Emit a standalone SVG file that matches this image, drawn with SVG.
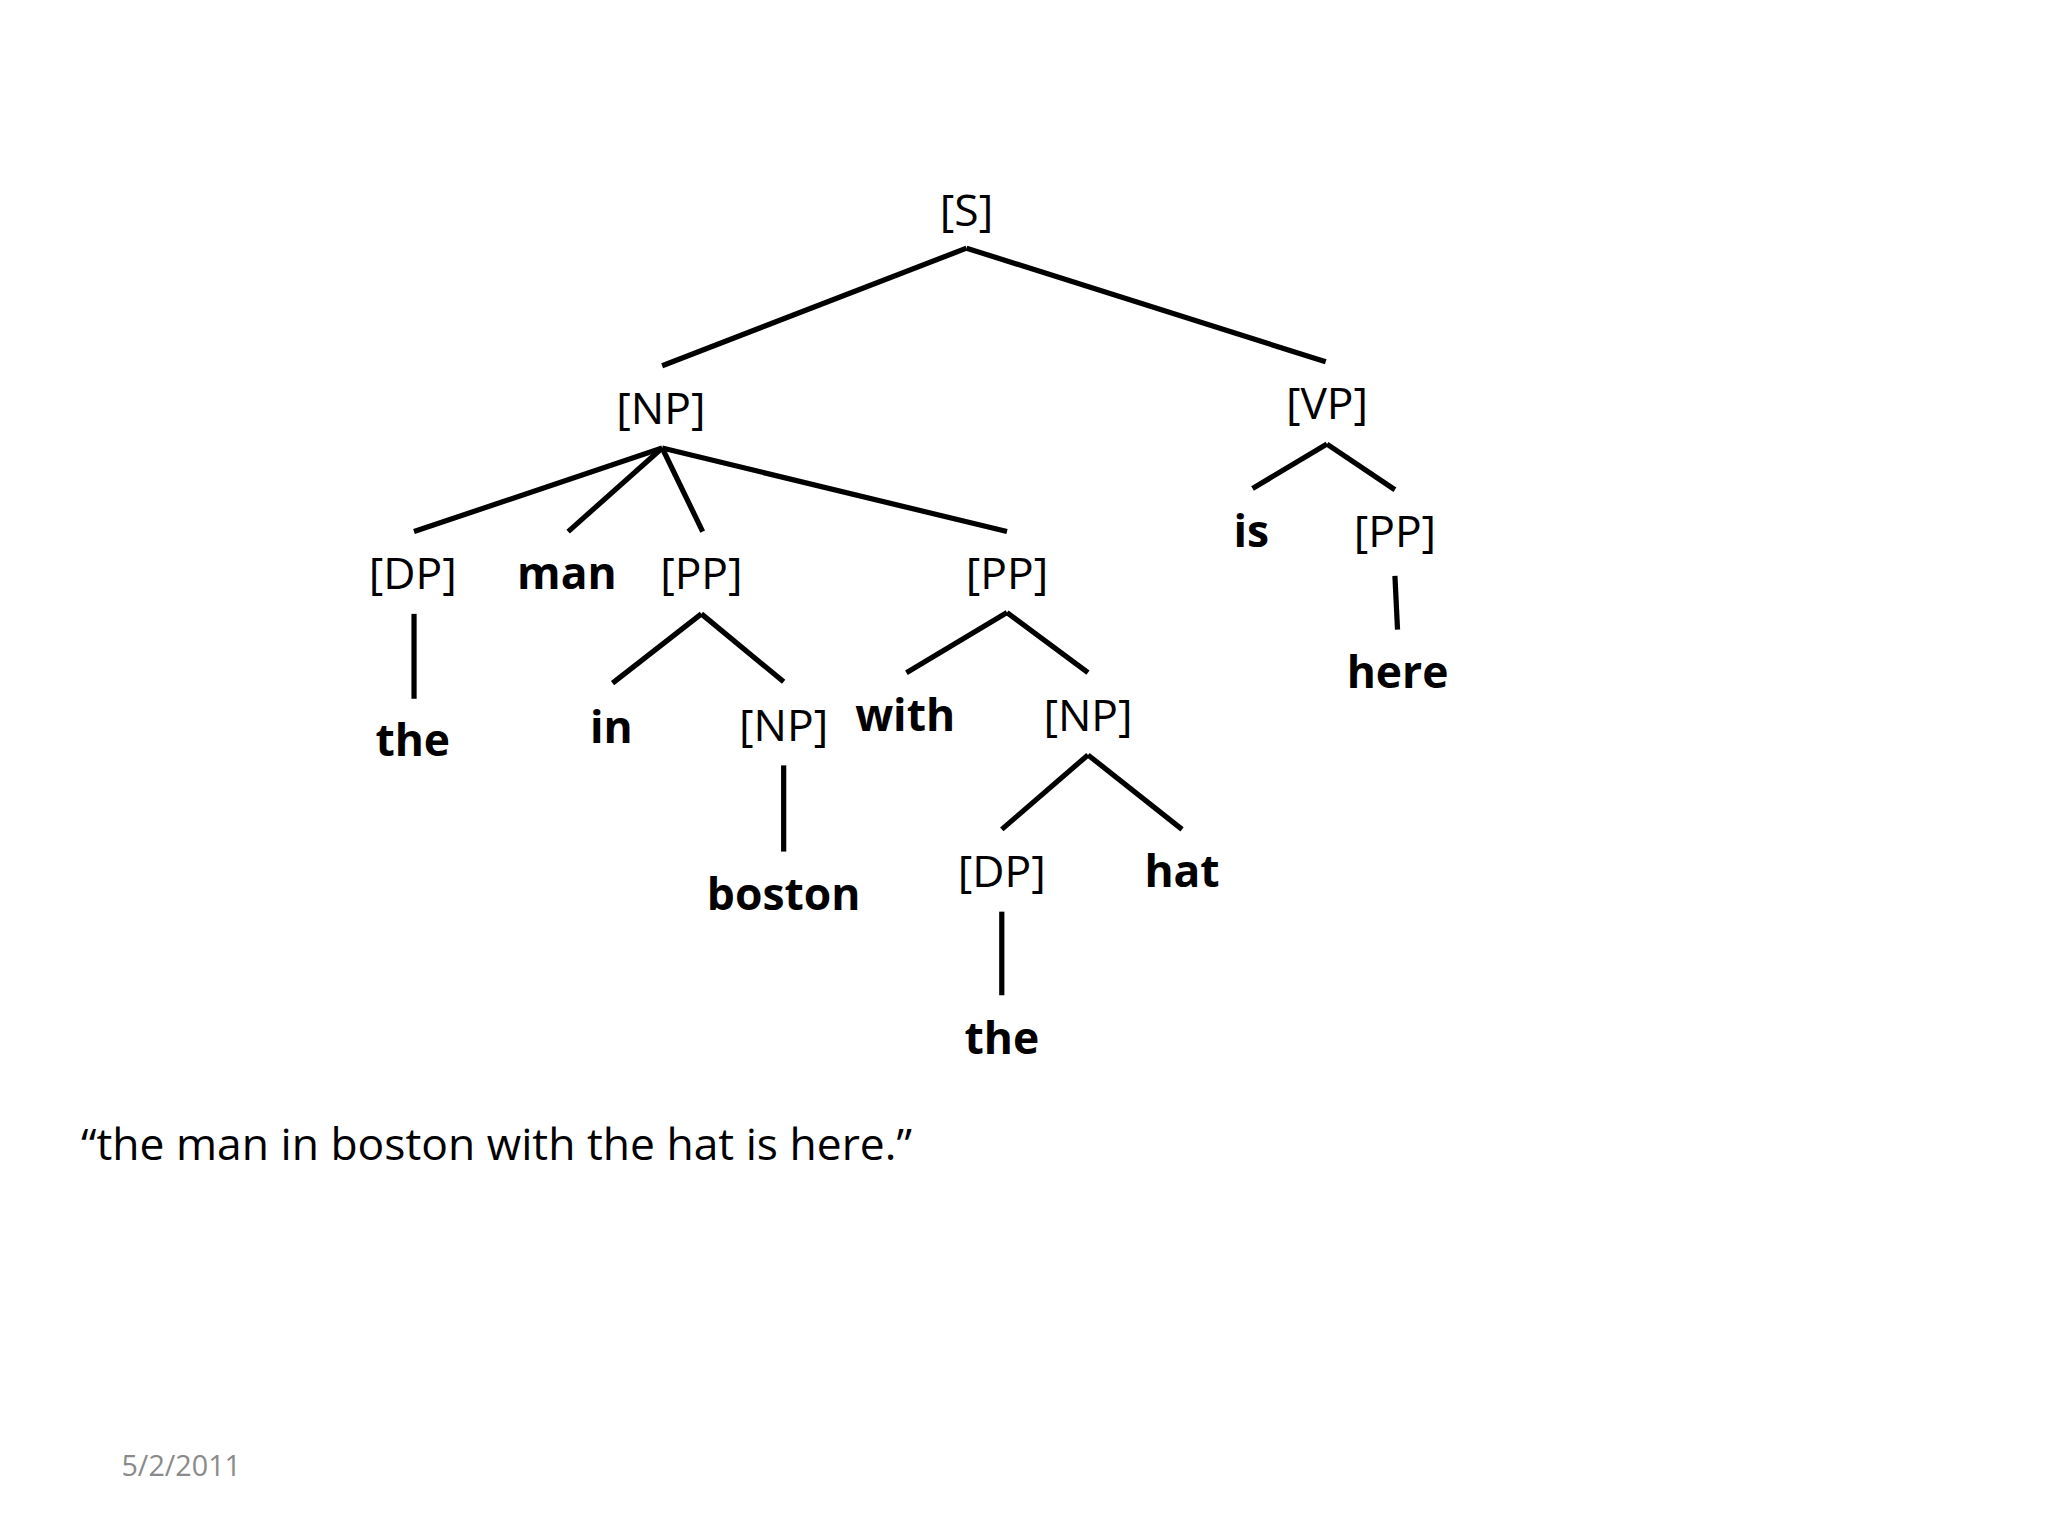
<svg xmlns="http://www.w3.org/2000/svg" width="2048" height="1536" viewBox="0 0 2048 1536">
<style>
text{font-family:"Open Sans","Noto Sans",sans-serif;font-size:34px;fill:#000;text-anchor:middle}
.b{font-weight:bold}
line{stroke:#000;stroke-width:4}
</style>
<rect width="2048" height="1536" fill="#fff"/>
<g transform="scale(1.3061)">
<g id="connectors">
<line x1="740" y1="190" x2="507" y2="280"/><line x1="740" y1="190" x2="1015" y2="277"/>
<line x1="507" y1="343" x2="317" y2="407"/><line x1="507" y1="343" x2="435" y2="407"/><line x1="507" y1="343" x2="538" y2="407"/><line x1="507" y1="343" x2="771" y2="407"/>
<line x1="1016" y1="340" x2="959" y2="374"/><line x1="1016" y1="340" x2="1068" y2="375"/>
<line x1="1068" y1="441" x2="1070" y2="482"/>
<line x1="317" y1="470" x2="317" y2="535"/>
<line x1="537" y1="470" x2="469" y2="523"/><line x1="537" y1="470" x2="600" y2="522"/>
<line x1="600" y1="586" x2="600" y2="652"/>
<line x1="771" y1="469" x2="694" y2="515"/><line x1="771" y1="469" x2="833" y2="515"/>
<line x1="833" y1="578" x2="767" y2="635"/><line x1="833" y1="578" x2="905" y2="635"/>
<line x1="767" y1="698" x2="767" y2="762"/>
</g>
<g id="S"><text x="740" y="173">[S]</text></g>
<g id="NP1"><text x="506" y="325">[NP]</text></g>
<g id="VP"><text x="1016" y="321">[VP]</text></g>
<g id="DP1"><text x="316" y="451">[DP]</text></g>
<g id="man"><text class="b" x="434" y="451">man</text></g>
<g id="PP1"><text x="537" y="451">[PP]</text></g>
<g id="PP2"><text x="771" y="451">[PP]</text></g>
<g id="is"><text class="b" x="958" y="419">is</text></g>
<g id="PP3"><text x="1068" y="419">[PP]</text></g>
<g id="here"><text class="b" x="1070" y="527">here</text></g>
<g id="the1"><text class="b" x="316" y="579">the</text></g>
<g id="in"><text class="b" x="468" y="569">in</text></g>
<g id="NP2"><text x="600" y="567">[NP]</text></g>
<g id="boston"><text class="b" x="600" y="697">boston</text></g>
<g id="with"><text class="b" x="693" y="560">with</text></g>
<g id="NP3"><text x="833" y="560">[NP]</text></g>
<g id="DP2"><text x="767" y="679">[DP]</text></g>
<g id="hat"><text class="b" x="905" y="679">hat</text></g>
<g id="the2"><text class="b" x="767" y="807">the</text></g>
<text x="62" y="888" style="text-anchor:start">“the man in boston with the hat is here.”</text>
<text x="93" y="1130" style="text-anchor:start;font-size:22px;fill:#8a8a8a">5/2/2011</text>
</g>
</svg>
